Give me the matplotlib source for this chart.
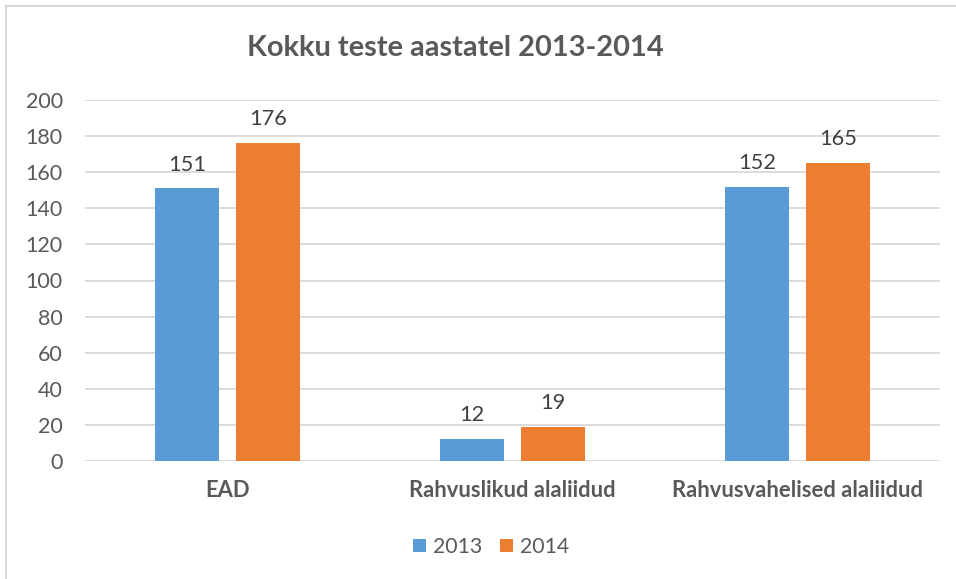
import matplotlib
matplotlib.use("Agg")
import matplotlib.pyplot as plt
import numpy as np
from matplotlib.patches import Rectangle

categories = ["EAD", "Rahvuslikud alaliidud", "Rahvusvahelised alaliidud"]
series_names = ["2013", "2014"]
values_2013 = [151, 12, 152]
values_2014 = [176, 19, 165]
yticks = [0, 20, 40, 60, 80, 100, 120, 140, 160, 180, 200]

colors = ["#5B9BD5", "#ED7D31"]
text_color = "#595959"
grid_color = "#D9D9D9"

plt.rcParams['font.family'] = ['Lato', 'DejaVu Sans']

fig = plt.figure(figsize=(9.56, 5.79), dpi=100)
fig.patch.set_facecolor("white")
fig.patches.append(Rectangle((6/956, -0.1), 1.2, 1 - 6/579 + 0.1, transform=fig.transFigure,
                             fill=False, edgecolor=grid_color, linewidth=1.5))

ax = fig.add_axes([85/956, 1 - 461/579, (940 - 85)/956, (461 - 100)/579])
x = np.arange(len(categories))
w = 0.224
off = 0.142
for i, (vals, name) in enumerate(zip([values_2013, values_2014], series_names)):
    pos = x + (-off if i == 0 else off)
    bars = ax.bar(pos, vals, width=w, color=colors[i], label=name, zorder=3)
    for b, v in zip(bars, vals):
        ax.annotate(str(v), (b.get_x() + b.get_width() / 2, v), xytext=(0, 10),
                    textcoords="offset points", ha="center", va="bottom",
                    fontsize=15.7, color="#404040")

ax.set_xlim(-0.5, len(categories) - 0.5)
ax.set_ylim(0, 200)
ax.set_yticks(yticks)
ax.set_yticklabels([str(t) for t in yticks], fontsize=15.5, color=text_color)
ax.set_xticks(x)
ax.set_xticklabels(categories, fontsize=15.8, fontweight="bold", color=text_color)
ax.tick_params(axis="both", length=0)
ax.tick_params(axis="y", pad=16)
ax.tick_params(axis="x", pad=14)
ax.grid(axis="y", color=grid_color, linewidth=1.3, zorder=0)
for s in ax.spines.values():
    s.set_visible(False)

fig.text(455/956, 1 - 48/579, "Kokku teste aastatel 2013-2014", ha="center", va="center",
         fontsize=20.9, fontweight="bold", color=text_color)

leg = fig.legend(loc="center", bbox_to_anchor=(491/956, 1 - 547/579), ncol=2, frameon=False,
                 fontsize=15.3, handlelength=0.62, handleheight=0.62, handletextpad=0.35,
                 columnspacing=0.8, labelcolor=text_color)

fig.savefig("out.png", dpi=100, facecolor="white")
